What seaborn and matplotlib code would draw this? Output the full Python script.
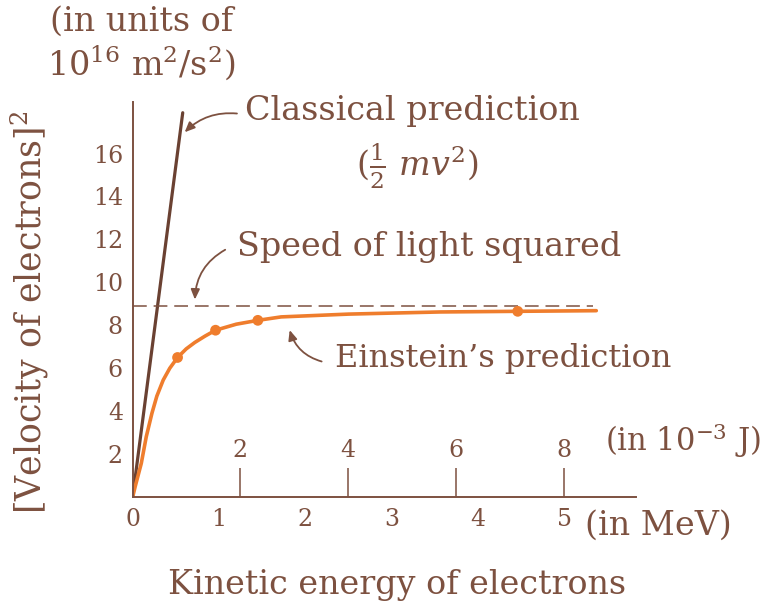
import numpy as np
import pandas as pd
import matplotlib
matplotlib.use("Agg")
import matplotlib.pyplot as plt
import seaborn as sns

# classical prediction (1/2 m v^2): straight line from the origin
classical_mev = [0.0, 0.58]
classical_v2 = [0.0, 17.9]

# Einstein's prediction (MeV, 10^16 m^2/s^2)
einstein_mev = [0.0, 0.03, 0.1, 0.157, 0.223, 0.28, 0.354, 0.43, 0.52, 0.62,
                0.72, 0.84, 0.96, 1.2, 1.45, 1.72, 2.5, 3.56, 4.46, 5.37]
einstein_v2 = [0.0, 0.5, 1.57, 2.8, 3.9, 4.7, 5.45, 6.0, 6.5, 6.9,
               7.2, 7.5, 7.77, 8.05, 8.23, 8.39, 8.52, 8.62, 8.65, 8.68]

# marked points on the curve
dots_mev = [0.52, 0.96, 1.45, 4.46]
dots_v2 = [6.5, 7.77, 8.23, 8.65]

# speed of light squared
c_line_mev = [0.0, 5.33]
c_squared = [8.88, 8.88]

mev_ticks = [0, 1, 2, 3, 4, 5]
v2_ticks = [2, 4, 6, 8, 10, 12, 14, 16]
joule_ticks = [2, 4, 6, 8]
MEV_PER_UNIT = 0.6242   # 1 unit on the joule scale in MeV

brown = "#7d5140"
dark_brown = "#6a4132"
orange = "#ef7d2d"

sns.set_theme(style="white")
plt.rcParams["font.family"] = ["DejaVu Serif"]
plt.rcParams["mathtext.fontset"] = "dejavuserif"
plt.rcParams["text.color"] = brown
plt.rcParams["xtick.color"] = brown
plt.rcParams["ytick.color"] = brown

fig = plt.figure(figsize=(7.74, 6.10), dpi=100)
ax = fig.add_axes([0.1714, 0.1852, 0.6503, 0.6476])

classical = pd.DataFrame({"mev": classical_mev, "v2": classical_v2})
einstein = pd.DataFrame({"mev": einstein_mev, "v2": einstein_v2})
dots = pd.DataFrame({"mev": dots_mev, "v2": dots_v2})

sns.lineplot(data=classical, x="mev", y="v2", ax=ax, color=dark_brown, lw=2.3)
ax.plot(c_line_mev, c_squared, color=brown, lw=1.1, dashes=(9, 4.5))
sns.lineplot(data=einstein, x="mev", y="v2", ax=ax, color=orange, lw=2.6)
sns.scatterplot(data=dots, x="mev", y="v2", ax=ax, color=orange, s=60,
                edgecolor="none", zorder=5)

ax.set_xlim(0, 5.83)
ax.set_ylim(0, 18.4)
for side in ["top", "right"]:
    ax.spines[side].set_visible(False)
for side in ["left", "bottom"]:
    ax.spines[side].set_color(brown)
    ax.spines[side].set_linewidth(1.4)

ax.set_xticks(mev_ticks)
ax.set_yticks(v2_ticks)
ax.tick_params(axis="x", direction="in", length=10, width=1.1, pad=8, labelsize=17)
ax.tick_params(axis="y", direction="in", length=9, width=1.1, pad=7, labelsize=17)
ax.set_xlabel("")
ax.set_ylabel("")

# joule scale drawn on the same baseline
sec = ax.secondary_xaxis(0.0, functions=(lambda m: m / MEV_PER_UNIT,
                                         lambda j: j * MEV_PER_UNIT))
sec.set_xticks(joule_ticks)
for sp in sec.spines.values():
    sp.set_visible(False)
sec.xaxis.set_ticks_position("top")
sec.tick_params(axis="x", direction="out", length=21, width=1.1, pad=4,
                labelsize=17, top=True, labeltop=True, bottom=False,
                labelbottom=False)

fs = 24
ax.text(1.30, 18.0, "Classical prediction", fontsize=fs, va="center", clip_on=False)
ax.text(3.30, 15.4, r"($\frac{1}{2}$ $mv^2$)", fontsize=fs, va="center", ha="center")
ax.text(1.21, 11.63, "Speed of light squared", fontsize=fs, va="center")
ax.text(2.34, 6.47, "Einstein\u2019s prediction", fontsize=fs - 1, va="center")
ax.text(5.47, 2.65, r"(in 10$^{-3}$ J)", fontsize=fs - 2, va="center", clip_on=False)
ax.text(5.24, -1.35, "(in MeV)", fontsize=fs, va="center", clip_on=False)

arrow = dict(arrowstyle="-|>,head_length=0.5,head_width=0.22", color=brown, lw=1.3)
ax.annotate("", xy=(0.58, 16.9), xytext=(1.24, 17.85),
            arrowprops=dict(arrow, connectionstyle="arc3,rad=0.25"))
ax.annotate("", xy=(0.72, 9.07), xytext=(1.10, 11.58),
            arrowprops=dict(arrow, connectionstyle="arc3,rad=0.3"))
ax.annotate("", xy=(1.81, 7.9), xytext=(2.22, 6.28),
            arrowprops=dict(arrow, connectionstyle="arc3,rad=-0.3"))

fig.text(0.513, 0.041, "Kinetic energy of electrons", fontsize=fs, ha="center", va="center")
fig.text(0.039, 0.489, "[Velocity of electrons]$^2$", fontsize=fs + 1, rotation=90,
         ha="center", va="center")
fig.text(0.183, 0.964, "(in units of", fontsize=fs, ha="center", va="center")
fig.text(0.183, 0.898, r"10$^{16}$ m$^2$/s$^2$)", fontsize=fs, ha="center", va="center")

fig.savefig("out.png", dpi=100, facecolor="white")
